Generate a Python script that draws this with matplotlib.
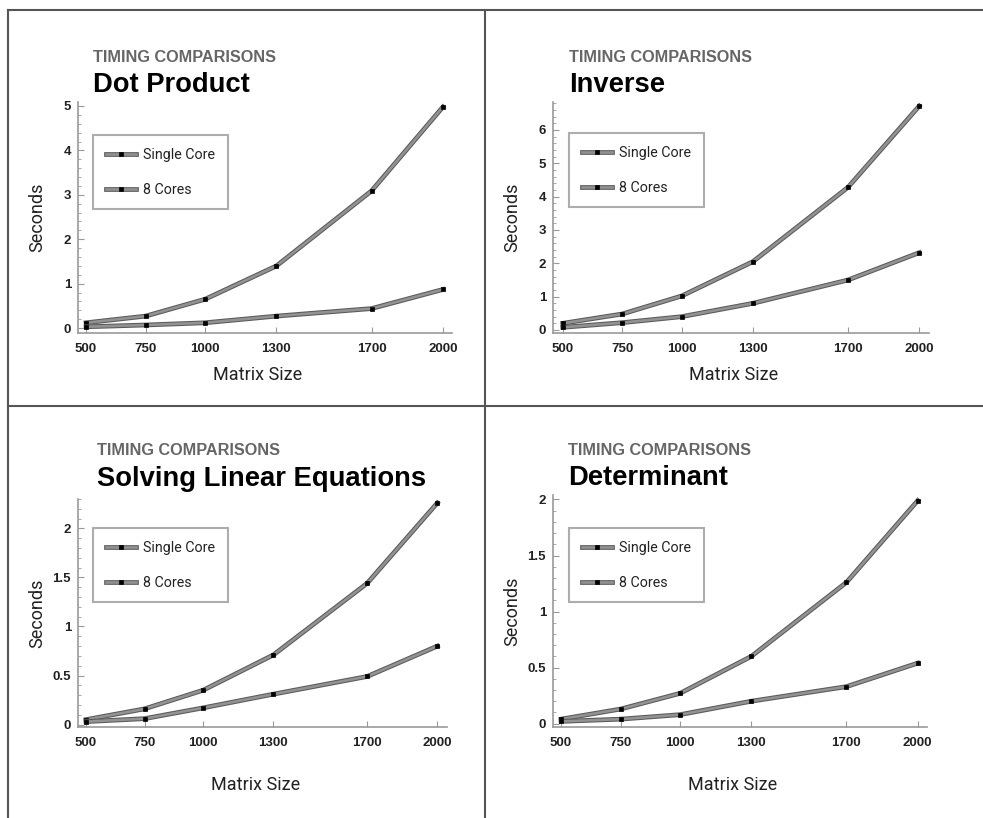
import numpy as np
import matplotlib
matplotlib.use('Agg')
import matplotlib.pyplot as plt
import matplotlib.patheffects as pe
from matplotlib.ticker import AutoMinorLocator, MultipleLocator, FuncFormatter
from matplotlib.lines import Line2D
from matplotlib.legend_handler import HandlerTuple

# matrix sizes on the x axis
sizes = [500, 750, 1000, 1300, 1700, 2000]

# seconds, single core vs 8 cores
dot_single = [0.12, 0.27, 0.65, 1.40, 3.09, 4.98]
dot_8 = [0.03, 0.07, 0.12, 0.27, 0.44, 0.87]
inv_single = [0.20, 0.48, 1.02, 2.05, 4.28, 6.72]
inv_8 = [0.08, 0.22, 0.40, 0.80, 1.50, 2.32]
solve_single = [0.05, 0.16, 0.35, 0.71, 1.44, 2.26]
solve_8 = [0.03, 0.06, 0.17, 0.31, 0.49, 0.80]
det_single = [0.04, 0.13, 0.27, 0.60, 1.26, 1.99]
det_8 = [0.02, 0.04, 0.08, 0.20, 0.33, 0.54]

titles = ['Dot Product', 'Inverse', 'Solving Linear Equations', 'Determinant']
series_labels = ['Single Core', '8 Cores']

W, H = 983, 818
narrow = ['Roboto', 'DejaVu Sans']
bold = ['Liberation Sans', 'DejaVu Sans']

fig = plt.figure(figsize=(W / 100, H / 100), dpi=100)


def fx(px):
    return px / W


def fy(py):
    return 1 - py / H


# panel layout in pixels: axes box (left, right, top, bottom), xlim, ylim, ystep,
# title x, title baselines, legend top-left, ylabel x, xlabel y
panels = [
    dict(box=(78, 452, 102, 333), xlim=(466, 2038), ylim=(-0.11, 5.09), step=1,
         tx=93, tb=(62, 92), leg=(93, 135), ylx=37, xly=375),
    dict(box=(553, 929, 102, 333), xlim=(459, 2041), ylim=(-0.09, 6.84), step=1,
         tx=569, tb=(62, 92), leg=(569, 133), ylx=512, xly=375),
    dict(box=(78, 447, 499, 727), xlim=(466, 2041), ylim=(-0.025, 2.30), step=0.5,
         tx=97, tb=(455, 486), leg=(93, 528), ylx=37, xly=785),
    dict(box=(553, 927, 495, 727), xlim=(466, 2039), ylim=(-0.03, 2.04), step=0.5,
         tx=568, tb=(455, 485), leg=(569, 528), ylx=512, xly=785),
]
data = [(dot_single, dot_8), (inv_single, inv_8),
        (solve_single, solve_8), (det_single, det_8)]

line_fx = [pe.Stroke(linewidth=3.4, foreground='#5a5a5a'), pe.Normal()]

for p, title, (s1, s8) in zip(panels, titles, data):
    l, r, t, b = p['box']
    ax = fig.add_axes([fx(l), fy(b), fx(r - l), (b - t) / H])
    handles = []
    for ys in (s1, s8):
        ln, = ax.plot(sizes, ys, color='#929292', lw=1.9, path_effects=line_fx)
        mk, = ax.plot(sizes, ys, ls='none', marker='s', ms=3.2,
                      mfc='black', mec='black', mew=0.5)
        handles.append((ln, mk))
    ax.set_xlim(*p['xlim'])
    ax.set_ylim(*p['ylim'])
    ax.set_xticks(sizes)
    ax.yaxis.set_major_locator(MultipleLocator(p['step']))
    ax.yaxis.set_minor_locator(AutoMinorLocator(5))
    ax.yaxis.set_major_formatter(FuncFormatter(lambda v, pos: '%g' % v))
    for s in ('top', 'right'):
        ax.spines[s].set_visible(False)
    for s in ('left', 'bottom'):
        ax.spines[s].set_color('#999999')
        ax.spines[s].set_linewidth(1.2)
    ax.tick_params(which='major', direction='in', length=4, width=0.8,
                   color='#999999', labelsize=9.5, pad=5)
    ax.tick_params(axis='x', which='major', pad=7)
    ax.tick_params(which='minor', direction='in', length=2, width=0.6,
                   color='#999999')
    for lab in ax.get_xticklabels() + ax.get_yticklabels():
        lab.set_fontfamily(bold)
        lab.set_fontweight('bold')
        lab.set_color('#222222')

    ax.set_ylabel('Seconds', family=narrow, fontsize=13, color='#222222')
    ax.yaxis.set_label_coords((p['ylx'] - l) / (r - l), 0.5)
    ax.set_xlabel('Matrix Size', family=narrow, fontsize=13, color='#222222')
    ax.xaxis.set_label_coords(0.48, -(p['xly'] - b) / (b - t))
    ax.xaxis.label.set_va('center')
    ax.yaxis.label.set_va('center')

    fig.text(fx(p['tx']), fy(p['tb'][0]), 'TIMING COMPARISONS', family=bold,
             fontweight='bold', fontsize=11.7, color='#666666', va='baseline')
    fig.text(fx(p['tx']), fy(p['tb'][1]), title, family=bold,
             fontweight='bold', fontsize=19.7, color='black', va='baseline')

    lx, ly = p['leg']
    leg = ax.legend(handles, series_labels, loc='upper left',
                    bbox_to_anchor=(fx(lx), fy(ly)),
                    bbox_transform=fig.transFigure, fancybox=False,
                    handler_map={tuple: HandlerTuple(ndivide=1)}, numpoints=1,
                    prop=dict(family=narrow, size=10.3), handlelength=2.1,
                    handletextpad=0.5, borderpad=0.9, labelspacing=1.45,
                    borderaxespad=0)
    leg.get_frame().set_edgecolor('#999999')
    leg.get_frame().set_linewidth(1.5)
    for txt in leg.get_texts():
        txt.set_color('#222222')

# panel divider lines
grid_kw = dict(color='#555555', lw=1.5, transform=fig.transFigure)
fig.add_artist(Line2D([fx(8), fx(983)], [fy(10), fy(10)], **grid_kw))
fig.add_artist(Line2D([fx(8), fx(8)], [fy(10), fy(818)], **grid_kw))
fig.add_artist(Line2D([fx(485), fx(485)], [fy(10), fy(818)], **grid_kw))
fig.add_artist(Line2D([fx(8), fx(983)], [fy(406), fy(406)], **grid_kw))

fig.savefig('out.png', dpi=100)
